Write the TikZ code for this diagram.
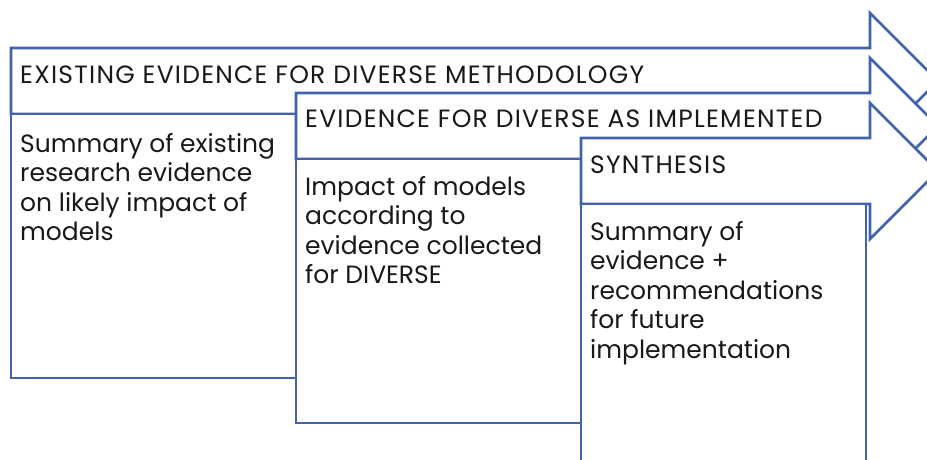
\documentclass[tikz,border=0pt]{standalone}
\usepackage{fontspec}
\setmainfont{Poppins}
\usetikzlibrary{positioning}
\definecolor{stageblue}{RGB}{66,98,172}
\definecolor{stagetext}{RGB}{25,25,25}
\tikzstyle{stage}=[draw=stageblue, fill=white, line width=2.8pt, line join=miter]
\tikzstyle{heading}=[anchor=base west, inner sep=0pt, text=stagetext, font=\fontsize{25}{29.5}\selectfont\addfontfeatures{LetterSpace=5}]
\tikzstyle{summary}=[heading, align=left, font=\fontsize{25}{29.5}\selectfont]

\begin{document}
\begin{tikzpicture}[x=1pt, y=-1pt]
  \useasboundingbox (0,0) rectangle (927,459);
  \clip (0,0) rectangle (927,459);

  \draw[stage] (11,48) -- (870,48) -- (870,13) -- (938,81) -- (870,149) -- (870,114) -- (11,114) -- cycle;
  \draw[stage] (11,114) rectangle (296,378);
  \draw[stage] (296,93) -- (870,93) -- (870,58) -- (938,126) -- (870,194) -- (870,159) -- (296,159) -- cycle;
  \draw[stage] (296,159) rectangle (581,423);
  \draw[stage] (581,138) -- (870,138) -- (870,103) -- (938,171) -- (870,239) -- (870,204) -- (581,204) -- cycle;
  \draw[stage] (581,204) rectangle (866,470);

  \node[heading] (existing) at (20,83) {EXISTING EVIDENCE FOR DIVERSE METHODOLOGY};
  \node[heading] (implemented) at (305,127) {EVIDENCE FOR DIVERSE AS IMPLEMENTED};
  \node[heading] (synthesis) at (590,173) {SYNTHESIS};

  \node[summary] (research) at (20,240.5) {Summary of existing\\research evidence\\on likely impact of\\models};
  \node[summary] (impact) at (305,283.5) {Impact of models\\according to\\evidence collected\\for DIVERSE};
  \node[summary] (recommend) at (590,358) {Summary of\\evidence +\\recommendations\\for future\\implementation};
\end{tikzpicture}
\end{document}
